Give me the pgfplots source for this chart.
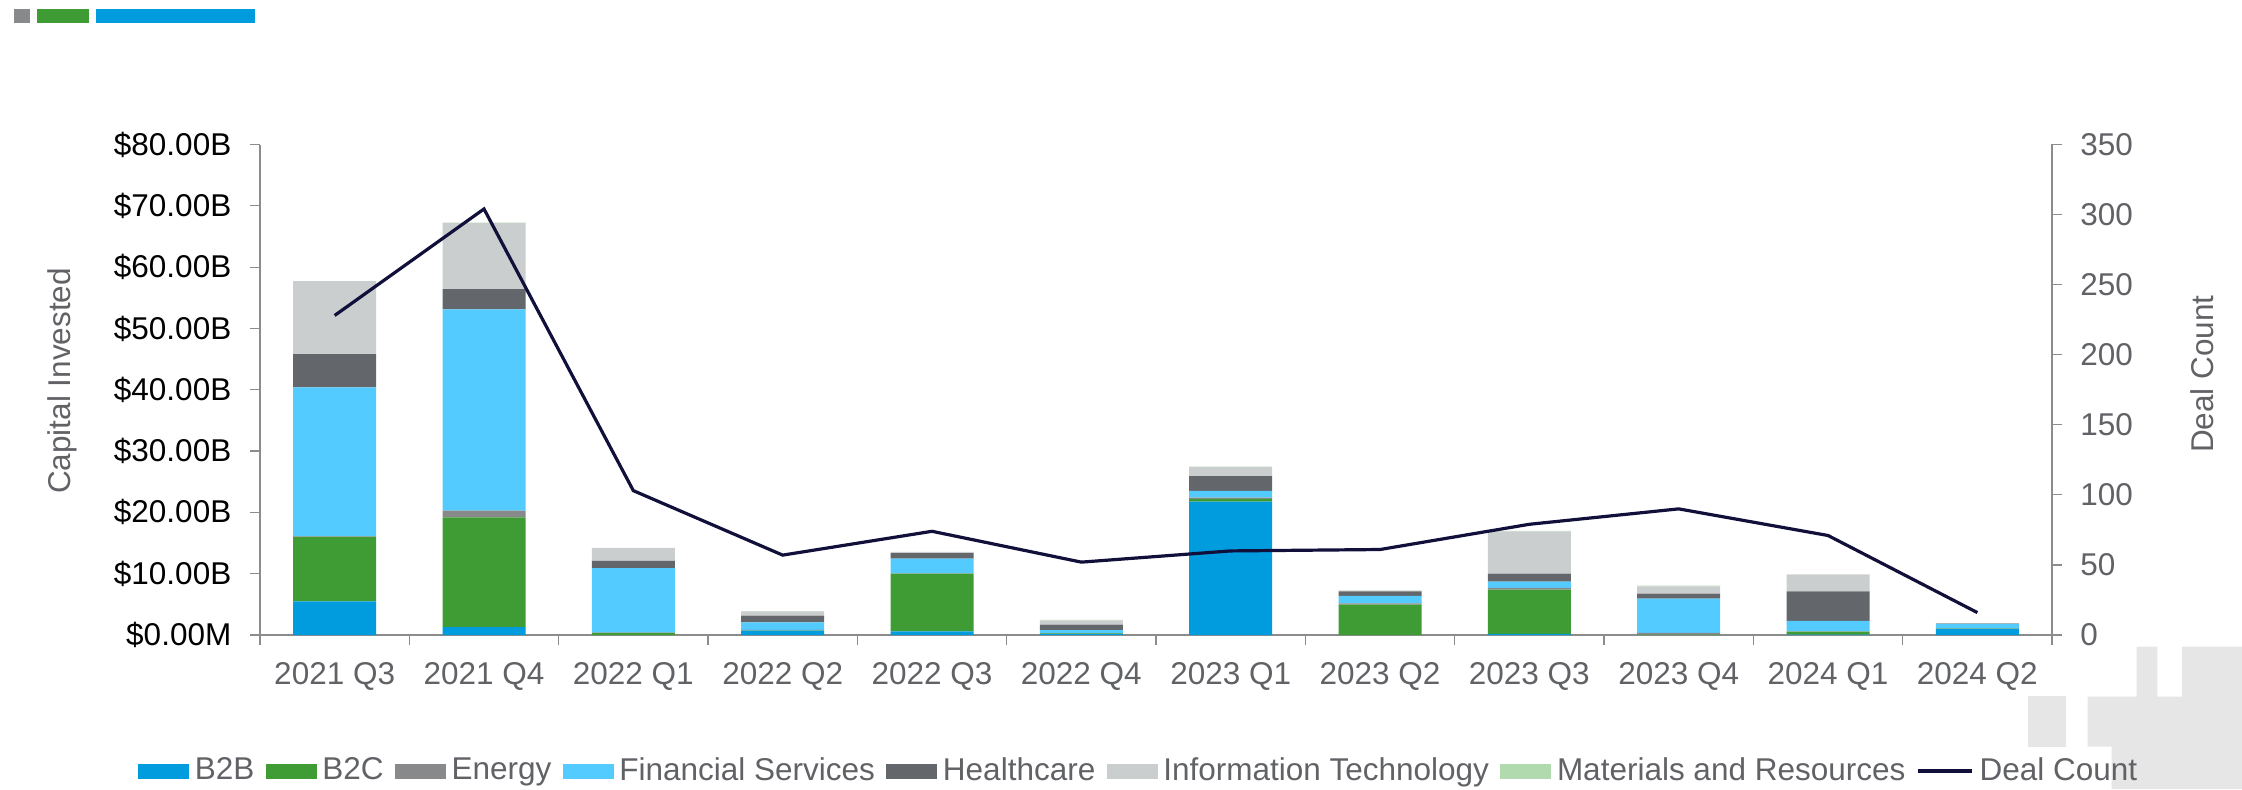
\documentclass[border=0pt]{standalone}
\usepackage{pgfplots}
\usepackage{pgfplotstable}
\pgfplotsset{compat=1.18}
\usepackage{fontspec}
\setmainfont{Liberation Sans}
\definecolor{cB2B}{HTML}{009CDE}
\definecolor{cB2C}{HTML}{3F9C35}
\definecolor{cEnergy}{HTML}{87898B}
\definecolor{cFS}{HTML}{54CBFF}
\definecolor{cHC}{HTML}{63666A}
\definecolor{cIT}{HTML}{CBCECF}
\definecolor{cMR}{HTML}{B1DBAE}
\definecolor{cDeal}{HTML}{10103A}
\definecolor{txtgray}{HTML}{606266}
\definecolor{axgray}{HTML}{8C8C8C}
\definecolor{deco}{HTML}{E6E6E6}

\pgfplotstableread{
x B2B B2C Energy FS HC IT MR Deals
0  5.5  10.5 0.10 24.3 5.4 11.9 0.00 228
1  1.3  17.9 1.10 32.8 3.3 10.8 0.05 304
2  0.0  0.35 0.05 10.5 1.2 2.1 0.00 103
3  0.7  0.05 0.10 1.2 1.1 0.7 0.05 57
4  0.6  9.4 0.05 2.4 0.9 0.2 0.00 74
5  0.2  0.05 0.05 0.5 0.9 0.7 0.05 52
6  21.75 0.45 0.2 1.1 2.4 1.5 0.05 60
7  0.0  4.95 0.2 1.25 0.7 0.15 0.05 61
8  0.2  7.2 0.3 1.0 1.3 6.9 0.1 79
9  0.0  0.05 0.3 5.6 0.8 1.2 0.1 90
10 0.05 0.5 0.05 1.7 4.8 2.8 0.0 71
11 1.0  0.05 0.05 0.7 0.05 0.1 0.0 16
}\datatable

\pgfplotsset{
  sqleg/.style={legend image code/.code={\fill[##1] (0pt,-3.75pt) rectangle (25.5pt,3.75pt);}},
  lineleg/.style={legend image code/.code={\draw[##1] (0pt,0pt) -- (27pt,0pt);}},
}

\begin{document}
\fontsize{15.75pt}{18pt}\selectfont
\begin{tikzpicture}[x=1pt,y=1pt]
\path[use as bounding box] (0,0) rectangle (1121,394.5);
% top-left decoration
\fill[cEnergy] (7,383) rectangle (15,390);
\fill[cB2C] (18.35,383) rectangle (44.5,390);
\fill[cB2B] (48,383) rectangle (127.5,390);
% bottom-right decoration
\fill[deco] (1014,21) rectangle (1033,46.5);
\fill[deco] (1043.75,46.15) -- (1068.25,46.15) -- (1068.25,71.15) -- (1078.65,71.15) -- (1078.65,46.15)
  -- (1091,46.15) -- (1091,71.15) -- (1121,71.15) -- (1121,0) -- (1055.85,0) -- (1055.85,21.15)
  -- (1043.75,21.15) -- cycle;

\begin{axis}[
  at={(130pt,77pt)}, anchor=south west,
  scale only axis, width=896pt, height=245.25pt,
  xmin=-0.5, xmax=11.5, ymin=0, ymax=80,
  enlargelimits=false,
  ybar stacked, bar width=41.5pt,
  axis x line*=bottom, axis y line*=left,
  axis line style={draw=axgray, line width=0.6pt, -},
  tick style={draw=axgray, line width=0.6pt},
  tick align=outside, major tick length=5pt,
  xtick={-0.5,0.5,...,11.5}, xticklabel=\empty,
  extra x ticks={0,1,...,11},
  extra x tick labels={2021 Q3,2021 Q4,2022 Q1,2022 Q2,2022 Q3,2022 Q4,2023 Q1,2023 Q2,2023 Q3,2023 Q4,2024 Q1,2024 Q2},
  extra x tick style={major tick length=0pt, xticklabel style={anchor=base, inner sep=0pt, yshift=-24.5pt, text=txtgray}},
  ytick={0,10,...,80},
  yticklabels={\$0.00M,\$10.00B,\$20.00B,\$30.00B,\$40.00B,\$50.00B,\$60.00B,\$70.00B,\$80.00B},
  yticklabel style={anchor=east, inner sep=0pt, xshift=-9.15pt, text=black},
  legend style={at={(-0.0681,-0.2773)}, anchor=west, draw=none, fill=none,
    inner sep=0pt, outer sep=0pt, font=\color{txtgray},
    nodes={inner sep=0pt},
    /tikz/every odd column/.append style={column sep=2.9pt},
    /tikz/every even column/.append style={column sep=5.6pt}},
  legend columns=-1,
]
\addplot[fill=cB2B, draw=none, sqleg] table[x=x,y=B2B]{\datatable};
\addlegendentry{B2B}
\addplot[fill=cB2C, draw=none, sqleg] table[x=x,y=B2C]{\datatable};
\addlegendentry{B2C}
\addplot[fill=cEnergy, draw=none, sqleg] table[x=x,y=Energy]{\datatable};
\addlegendentry{Energy}
\addplot[fill=cFS, draw=none, sqleg] table[x=x,y=FS]{\datatable};
\addlegendentry{Financial Services}
\addplot[fill=cHC, draw=none, sqleg] table[x=x,y=HC]{\datatable};
\addlegendentry{Healthcare}
\addplot[fill=cIT, draw=none, sqleg] table[x=x,y=IT]{\datatable};
\addlegendentry{Information Technology}
\addplot[fill=cMR, draw=none, sqleg] table[x=x,y=MR]{\datatable};
\addlegendentry{Materials and Resources}
\addlegendimage{cDeal, line width=1.6pt, lineleg}
\addlegendentry{Deal Count}
\end{axis}

\begin{axis}[
  at={(130pt,77pt)}, anchor=south west,
  scale only axis, width=896pt, height=245.25pt,
  xmin=-0.5, xmax=11.5, ymin=0, ymax=350,
  enlargelimits=false,
  axis x line=none, axis y line*=right,
  axis line style={draw=axgray, line width=0.6pt, -},
  tick style={draw=axgray, line width=0.6pt},
  tick align=outside, major tick length=5pt,
  ytick={0,50,...,350},
  yticklabels={0,50,100,150,200,250,300,350},
  yticklabel style={anchor=west, inner sep=0pt, xshift=9pt, text=txtgray},
]
\addplot[cDeal, line width=1.6pt, mark=none] table[x=x,y=Deals]{\datatable};
\end{axis}

\node[rotate=90, anchor=base, text=txtgray] at (35pt,204pt) {Capital Invested};
\node[rotate=90, anchor=base, text=txtgray] at (1106.5pt,207.5pt) {Deal Count};
\end{tikzpicture}
\end{document}
